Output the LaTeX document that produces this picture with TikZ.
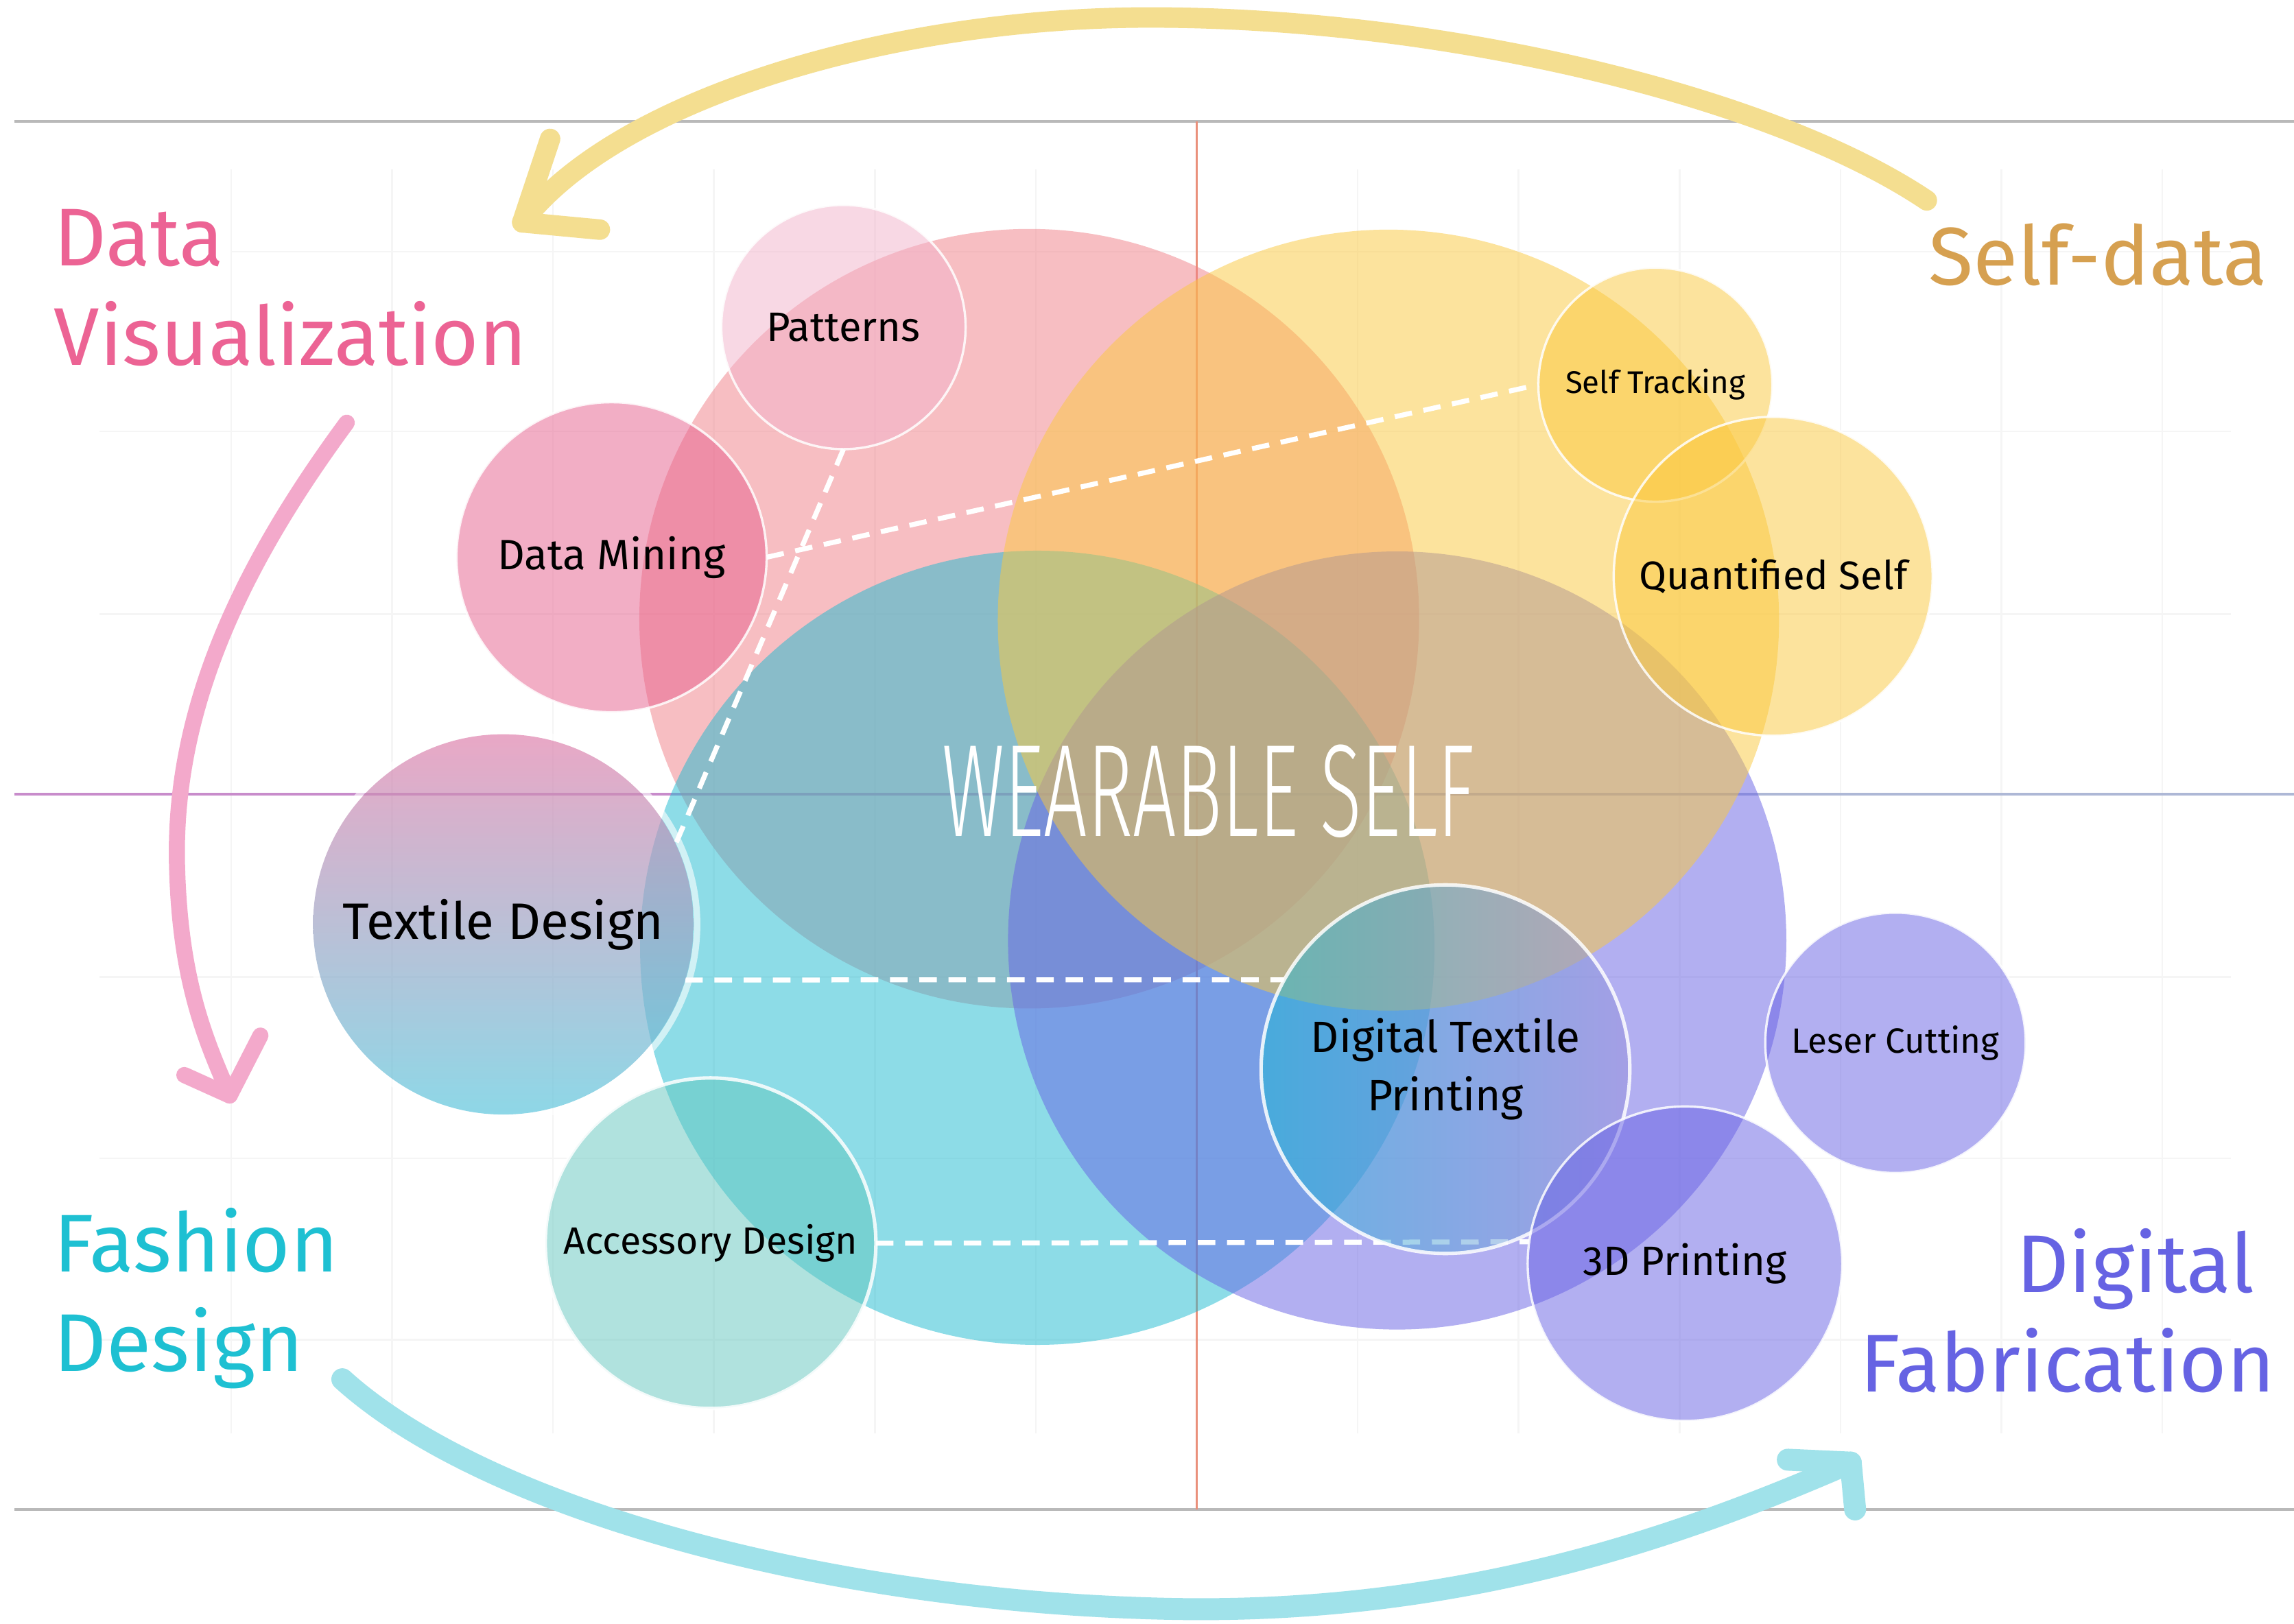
\documentclass[tikz,border=0pt]{standalone}
\usepackage{graphicx}
\usepackage{fontspec}
\setmainfont{Fira Sans}
\newfontfamily\titlefont{Fira Sans Light}
\usepackage{tikz}
\usetikzlibrary{positioning}

\pgfdeclarelayer{back}
\pgfdeclarelayer{links}
\pgfsetlayers{back,links,main}

\definecolor{dvpink}{HTML}{F17F87}
\definecolor{fdteal}{HTML}{1DBBD1}
\definecolor{dfpurple}{HTML}{6761E5}
\definecolor{sdyellow}{HTML}{FBC93D}
\definecolor{patpink}{HTML}{F3B3CB}
\definecolor{dmpink}{HTML}{E75F8D}
\definecolor{texpink}{HTML}{E083AE}
\definecolor{texteal}{HTML}{5EC7DD}
\definecolor{accmint}{HTML}{63C7BF}
\definecolor{dtpteal}{HTML}{19B8D5}
\definecolor{dtppurple}{HTML}{9790DA}
\definecolor{dvtext}{HTML}{EC6394}
\definecolor{sdtext}{HTML}{D6A050}
\definecolor{fdtext}{HTML}{1EC0D2}
\definecolor{dftext}{HTML}{6663E3}
\definecolor{yelarrow}{HTML}{F4DE90}
\definecolor{pinkarrow}{HTML}{F3A9CB}
\definecolor{cyanarrow}{HTML}{A0E2EA}
\definecolor{midleft}{HTML}{C88CCB}
\definecolor{midright}{HTML}{AEB8D6}

\begin{document}
\begin{tikzpicture}[x=0.5pt, y=-0.5pt,
		area/.style   = {circle, inner sep=0pt, outer sep=0pt, fill opacity=0.5},
		topic/.style  = {circle, inner sep=0pt, outer sep=0pt, align=center, fill opacity=0.5, text opacity=1, draw=white, draw opacity=0.85, line width=0.8pt},
		field/.style  = {inner sep=0pt, outer sep=0pt, font=\fontsize{28}{34}\selectfont},
		link/.style   = {white, line width=1.7pt, dash pattern=on 6pt off 4pt},
		brush/.style  = {line cap=round, line join=round},
		gridline/.style = {gray!8, line width=0.6pt}]
		
		\useasboundingbox (0,0) rectangle (1568,1110);
		
		\begin{pgfonlayer}{back}
			\fill[white] (0,0) rectangle (1568,1110);
			% faint grid
			\foreach \gx in {158,268,...,1478}
			\draw[gridline] (\gx,116) -- (\gx,980);
			\foreach \gy in {295,420,668,792,916}
			\draw[gridline] (68,\gy) -- (1525,\gy);
			\draw[gridline] (158,172) -- (1525,172);
			
			% frame and axes
			\draw[gray!55, line width=0.8pt] (10,83) -- (1568,83);
			\draw[gray!55, line width=0.8pt] (10,1032) -- (1568,1032);
			\draw[red!45!brown!60, line width=0.9pt] (818,83) -- (818,1032);
			\draw[midleft, line width=0.9pt] (10,543) -- (818,543);
			\draw[midright, line width=0.9pt] (818,543) -- (1568,543);
			
			% the four domains
			\node[area, fill=dvpink, minimum size=266.5pt] (dv) at (703.5,423) {};
			\node[area, fill=fdteal, minimum size=271.5pt] (fd) at (709,648) {};
			\node[area, fill=dfpurple, minimum size=266pt] (df) at (955,643) {};
			\node[area, fill=sdyellow, minimum size=267pt] (sd) at (949,424) {};
		\end{pgfonlayer}
		
		% topics
		\node[topic, fill=patpink, minimum size=83.5pt, font=\fontsize{14}{17}\selectfont] (pat) at (576.5,223.6) {Patterns};
		\node[topic, fill=dmpink, minimum size=106pt, font=\fontsize{14.5}{17}\selectfont] (dm) at (418,381) {Data Mining};
		\node[topic, top color=texpink, bottom color=texteal, fill opacity=0.7, draw=none, minimum size=130pt, font=\fontsize{17.5}{20}\selectfont] (tex) at (344,632) {Textile Design};
		\draw[white, opacity=0.6, line width=2.2pt] (tex) circle (132.5);
		\node[topic, fill=accmint, line width=1.2pt, minimum size=113pt, font=\fontsize{13}{16}\selectfont] (acc) at (485.7,850) {Accessory Design};
		\node[topic, fill=sdyellow, minimum size=80pt, font=\fontsize{10.7}{13}\selectfont] (st) at (1131.5,263) {Self Tracking};
		\node[topic, fill=sdyellow, minimum size=109pt, font=\fontsize{13.6}{16}\selectfont] (qs) at (1212,394) {Quantified Self};
		\node[topic, left color=dtpteal, right color=dtppurple, line width=1.2pt, minimum size=126pt, font=\fontsize{15}{20}\selectfont] (dtp) at (988,731) {Digital Textile\\Printing};
		\node[topic, fill=dfpurple, minimum size=89pt, font=\fontsize{12}{15}\selectfont] (lc) at (1295.6,713) {Leser Cutting};
		\node[topic, fill=dfpurple, minimum size=107.5pt, font=\fontsize{14}{17}\selectfont] (tdp) at (1151.7,864) {3D Printing};
		
		% dashed links between topics
		\begin{pgfonlayer}{links}
			\draw[link] (pat.south) -- (tex.25);
			\draw[link] (dm.east) -- (st.west);
			\draw[link] (tex.-17) -- (dtp.151);
			\draw[link] (acc.east) -- (tdp.172);
		\end{pgfonlayer}
		
		% field labels
		\node[field, dvtext, anchor=north west, align=left] (dvlab) at (37,143) {Data\\Visualization};
		\node[field, sdtext, anchor=base east] (sdlab) at (1550,195) {Self-data};
		\node[field, fdtext, anchor=north west, align=left] (fdlab) at (37,826) {Fashion\\Design};
		\node[field, dftext, anchor=north east, align=right] (dflab) at (1555,840) {Digital\hspace*{7pt}\\Fabrication};
		
		\node[white, inner sep=0pt, font=\titlefont\fontsize{45}{45}\selectfont] (ws) at (826,541) {\scalebox{0.585}[1]{WEARABLE SELF}};
		
		% brush arrows round the picture
		\coordinate (yfrom) at (1317,137);
		\coordinate (yto) at (357,152);
		\draw[brush, yelarrow, line width=7pt] (yfrom) .. controls (1210,65) and (980,10) .. (776,12) .. controls (600,14) and (420,70) .. (yto);
		\draw[brush, yelarrow, line width=7pt] (376,95) -- (yto) -- (410,157);
		
		\coordinate (pfrom) at (237,289);
		\coordinate (pto) at (157,749);
		\draw[brush, pinkarrow, line width=5.5pt] (pfrom) .. controls (170,380) and (118,480) .. (121,592) .. controls (123,670) and (140,710) .. (pto);
		\draw[brush, pinkarrow, line width=5.5pt] (126,735) -- (pto) -- (178,708);
		
		\coordinate (cfrom) at (234,943);
		\coordinate (cto) at (1265,1000);
		\draw[brush, cyanarrow, line width=7.5pt] (cfrom) .. controls (330,1030) and (560,1095) .. (800,1100) .. controls (1000,1104) and (1150,1050) .. (cto);
		\draw[brush, cyanarrow, line width=7.5pt] (1222,998) -- (cto) -- (1268,1032);
		
	\end{tikzpicture}
\end{document}
